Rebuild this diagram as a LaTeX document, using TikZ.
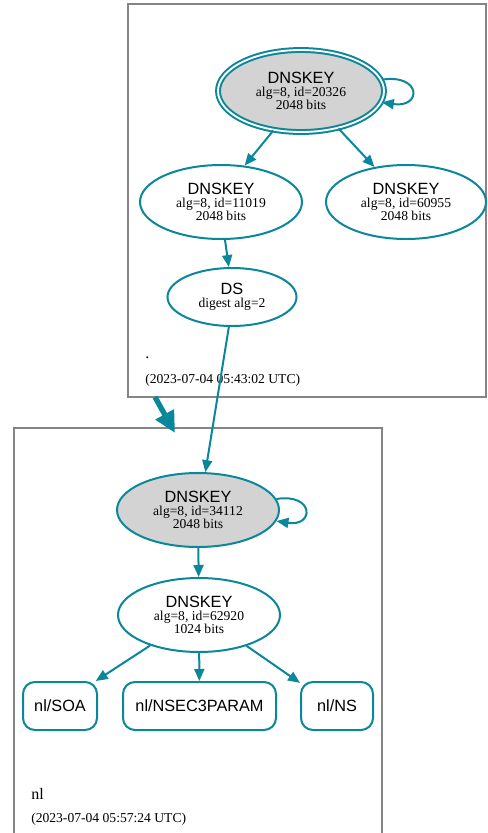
\documentclass[tikz,border=0pt]{standalone}
\usepackage{fontspec}
\setmainfont{Liberation Serif}
\setsansfont{Liberation Sans}
\usetikzlibrary{arrows.meta,positioning,shapes.geometric}
\definecolor{dnsTeal}{HTML}{0A879A}
\definecolor{dnsFill}{HTML}{D3D3D3}
\definecolor{dnsFrame}{HTML}{858585}
\newcommand{\rtype}[1]{{\sffamily\fontsize{12.2}{10}\selectfont #1}}

\begin{document}
\begin{tikzpicture}[x=0.75pt,y=-0.75pt,
   font=\fontsize{10.2}{10}\selectfont,
   key/.style={ellipse,draw=dnsTeal,line width=1.5pt,inner sep=0pt,align=center,
               minimum width=121.5pt,minimum height=55.5pt},
   sep/.style={key,fill=dnsFill},
   rrset/.style={draw=dnsTeal,line width=1.5pt,rounded corners=9pt,inner sep=0pt,
                 minimum height=36pt,font=\sffamily\fontsize{12.2}{12}\selectfont},
   edge/.style={draw=dnsTeal,line width=1.5pt,-{Triangle[length=9pt,width=7.5pt]}},
   frame/.style={draw=dnsFrame,line width=0.8pt},
   zonelabel/.style={anchor=base west,inner sep=0pt}]
  \useasboundingbox (0,0) rectangle (487,833);
  % zone .
  \draw[frame] (128,4) rectangle (486,397);
  \node[sep,double=white,double distance=1.4pt,minimum width=124.5pt,minimum height=61.5pt]
    (k20326) at (301,91) {\rtype{DNSKEY}\\alg=8, id=20326\\2048 bits};
  \node[key] (k11019) at (221,202) {\rtype{DNSKEY}\\alg=8, id=11019\\2048 bits};
  \node[key,minimum width=120pt] (k60955) at (406,202) {\rtype{DNSKEY}\\alg=8, id=60955\\2048 bits};
  \node[key,minimum width=96.75pt,minimum height=43.5pt] (ds) at (232,297) {\rtype{DS}\\digest alg=2};
  \node[zonelabel,font=\fontsize{12}{12}\selectfont] (rootname) at (145,358) {.};
  \node[zonelabel] (rootdate) at (145,383) {(2023-07-04 05:43:02 UTC)};
  \draw[edge] (k20326.235) -- (k11019.57);
  \draw[edge] (k20326.315) -- (k60955.132);
  \draw[edge] (k11019.276) -- (ds.96);
  \draw[edge] (k20326.8) .. controls +(40,-6) and +(40,6) .. (k20326.-8);
  % zone nl
  \draw[frame] (14,834) -- (14,428) -- (382,428) -- (382,834);
  \node[sep] (k34112) at (198,510) {\rtype{DNSKEY}\\alg=8, id=34112\\2048 bits};
  \node[key] (k62920) at (199,615) {\rtype{DNSKEY}\\alg=8, id=62920\\1024 bits};
  \node[rrset,minimum width=114.75pt] (nsec3) at (199.5,706) {nl/NSEC3PARAM};
  \node[rrset,minimum width=55.5pt,left=18pt of nsec3] (soa) {nl/SOA};
  \node[rrset,minimum width=54pt,right=17.25pt of nsec3] (ns) {nl/NS};
  \node[zonelabel,font=\fontsize{12}{12}\selectfont] (nlname) at (31,799) {nl};
  \node[zonelabel] (nldate) at (31,822) {(2023-07-04 05:57:24 UTC)};
  \draw[edge] (ds.264) -- (k34112.79);
  \draw[edge] (k34112.8.6) .. controls +(38,-6) and +(38,6) .. (k34112.-8.9);
  \draw[edge] (k34112) -- (k62920);
  \draw[edge] (k62920.212.5) -- (soa.35);
  \draw[edge] (k62920) -- (nsec3);
  \draw[edge] (k62920.327) -- (ns.148);
  % delegation
  \coordinate (rootout) at (155,397);
  \coordinate (nlin) at (175,433);
  \draw[edge,line width=4pt,-{Triangle[length=16pt,width=15pt]}] (rootout) -- (nlin);
\end{tikzpicture}
\end{document}
